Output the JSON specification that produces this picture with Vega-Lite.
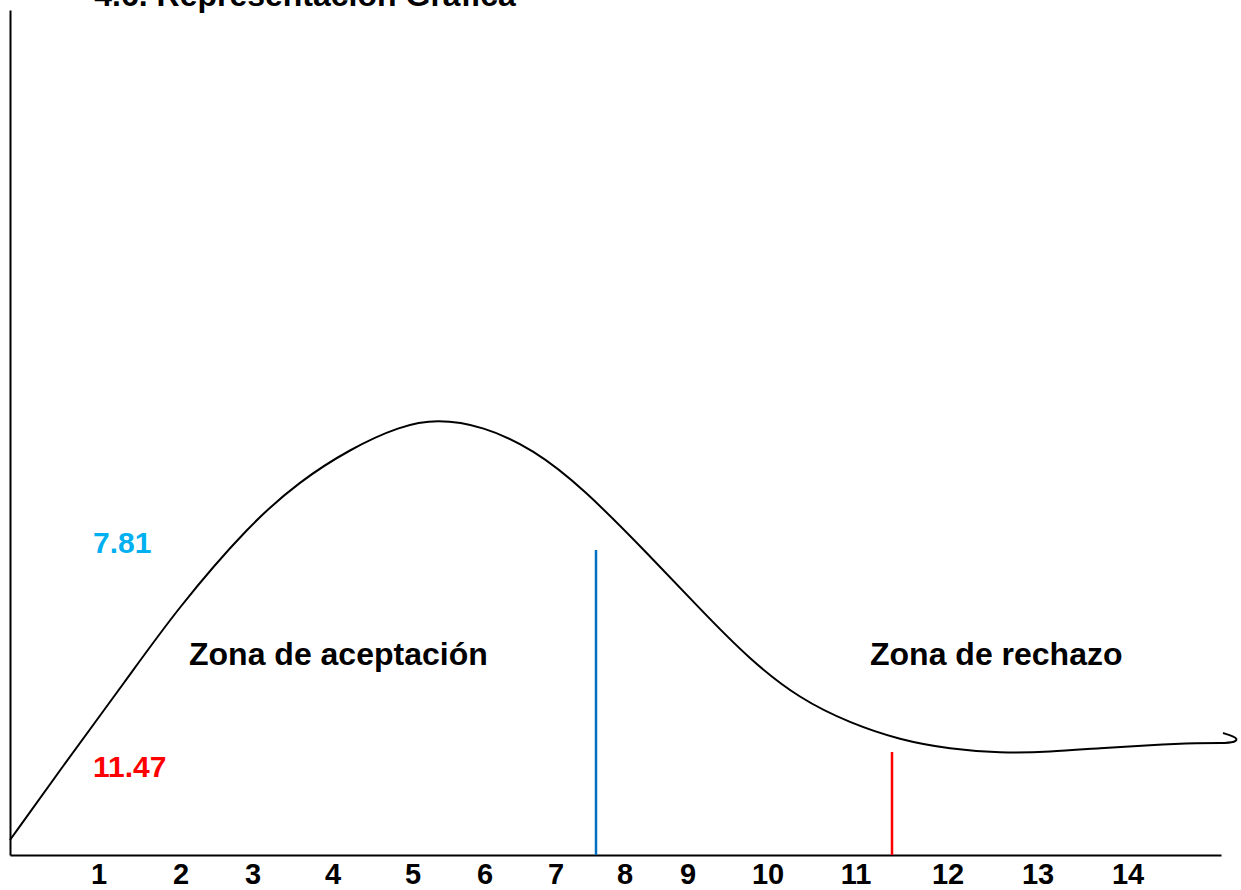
{
  "$schema": "https://vega.github.io/schema/vega-lite/v6.json",
  "width": 1211,
  "height": 845,
  "autosize": {"type": "none"},
  "padding": {"left": 10, "top": 10, "right": 20, "bottom": 35},
  "background": "white",
  "config": {"view": {"stroke": null}, "font": "Liberation Sans"},
  "datasets": {
    "curve": [
      {"x": 0, "y": 15},
      {"x": 50, "y": 85},
      {"x": 117, "y": 176},
      {"x": 167, "y": 246},
      {"x": 240, "y": 331},
      {"x": 290, "y": 374},
      {"x": 340, "y": 406},
      {"x": 390, "y": 429},
      {"x": 427, "y": 436},
      {"x": 473, "y": 429},
      {"x": 523, "y": 406},
      {"x": 573, "y": 367},
      {"x": 640, "y": 299},
      {"x": 690, "y": 246},
      {"x": 740, "y": 195},
      {"x": 790, "y": 156},
      {"x": 840, "y": 132},
      {"x": 890, "y": 115},
      {"x": 940, "y": 106},
      {"x": 990, "y": 102},
      {"x": 1040, "y": 103},
      {"x": 1090, "y": 107},
      {"x": 1140, "y": 110},
      {"x": 1190, "y": 112},
      {"x": 1215, "y": 112}
    ],
    "hook": [
      {"i": 0, "x": 1205, "y": 112},
      {"i": 1, "x": 1215, "y": 112},
      {"i": 2, "x": 1222, "y": 112.5},
      {"i": 3, "x": 1226, "y": 114},
      {"i": 4, "x": 1227, "y": 116},
      {"i": 5, "x": 1224, "y": 118.5},
      {"i": 6, "x": 1213, "y": 122}
    ],
    "ticks": [
      {"label": "1", "x": 89},
      {"label": "2", "x": 171},
      {"label": "3", "x": 243},
      {"label": "4", "x": 323},
      {"label": "5", "x": 403},
      {"label": "6", "x": 475},
      {"label": "7", "x": 546},
      {"label": "8", "x": 615},
      {"label": "9", "x": 678},
      {"label": "10", "x": 758},
      {"label": "11", "x": 846},
      {"label": "12", "x": 938},
      {"label": "13", "x": 1028},
      {"label": "14", "x": 1118}
    ],
    "crit": [
      {"name": "7.81", "x": 586, "y": 305, "color": "#0070C0"},
      {"name": "11.47", "x": 882, "y": 103, "color": "#FF0000"}
    ],
    "values": [
      {"text": "7.81", "x": 83, "y": 302, "color": "#00B0F0"},
      {"text": "11.47", "x": 83, "y": 78, "color": "#FF0000"}
    ],
    "zones": [
      {"text": "Zona de aceptación", "x": 179, "y": 190},
      {"text": "Zona de rechazo", "x": 860, "y": 190}
    ],
    "title": [
      {"text": "4.6. Representación Gráfica", "x": 295, "y": 849}
    ]
  },
  "layer": [
    {
      "data": {"name": "curve"},
      "mark": {"type": "line", "color": "black", "strokeWidth": 2, "interpolate": "basis", "clip": false},
      "encoding": {
        "x": {"field": "x", "type": "quantitative", "scale": {"domain": [0, 1211], "nice": false, "zero": false},
          "axis": {"title": null, "labels": false, "ticks": false, "grid": false, "domain": true, "domainColor": "black", "domainWidth": 2}},
        "y": {"field": "y", "type": "quantitative", "scale": {"domain": [0, 845], "nice": false, "zero": false},
          "axis": {"title": null, "labels": false, "ticks": false, "grid": false, "domain": true, "domainColor": "black", "domainWidth": 2}}
      }
    },
    {
      "data": {"name": "hook"},
      "mark": {"type": "line", "color": "black", "strokeWidth": 2, "interpolate": "basis", "clip": false},
      "encoding": {
        "x": {"field": "x", "type": "quantitative"},
        "y": {"field": "y", "type": "quantitative"},
        "order": {"field": "i", "type": "quantitative"}
      }
    },
    {
      "data": {"name": "crit"},
      "mark": {"type": "rule", "strokeWidth": 2.5},
      "encoding": {
        "x": {"field": "x", "type": "quantitative"},
        "y": {"field": "y", "type": "quantitative"},
        "y2": {"datum": 0},
        "color": {"field": "color", "type": "nominal", "scale": null}
      }
    },
    {
      "data": {"name": "values"},
      "mark": {"type": "text", "fontWeight": "bold", "align": "left", "baseline": "alphabetic", "fontSize": 30},
      "encoding": {
        "x": {"field": "x", "type": "quantitative"},
        "y": {"field": "y", "type": "quantitative"},
        "text": {"field": "text", "type": "nominal"},
        "color": {"field": "color", "type": "nominal", "scale": null}
      }
    },
    {
      "data": {"name": "zones"},
      "mark": {"type": "text", "fontWeight": "bold", "align": "left", "baseline": "alphabetic", "fontSize": 32, "color": "black"},
      "encoding": {
        "x": {"field": "x", "type": "quantitative"},
        "y": {"field": "y", "type": "quantitative"},
        "text": {"field": "text", "type": "nominal"}
      }
    },
    {
      "data": {"name": "ticks"},
      "mark": {"type": "text", "fontWeight": "bold", "align": "center", "baseline": "alphabetic", "fontSize": 29, "color": "black", "dy": 29},
      "encoding": {
        "x": {"field": "x", "type": "quantitative"},
        "y": {"datum": 0, "type": "quantitative"},
        "text": {"field": "label", "type": "nominal"}
      }
    },
    {
      "data": {"name": "title"},
      "mark": {"type": "text", "fontWeight": "bold", "align": "center", "baseline": "alphabetic", "fontSize": 32, "color": "black"},
      "encoding": {
        "x": {"field": "x", "type": "quantitative"},
        "y": {"field": "y", "type": "quantitative"},
        "text": {"field": "text", "type": "nominal"}
      }
    }
  ]
}
